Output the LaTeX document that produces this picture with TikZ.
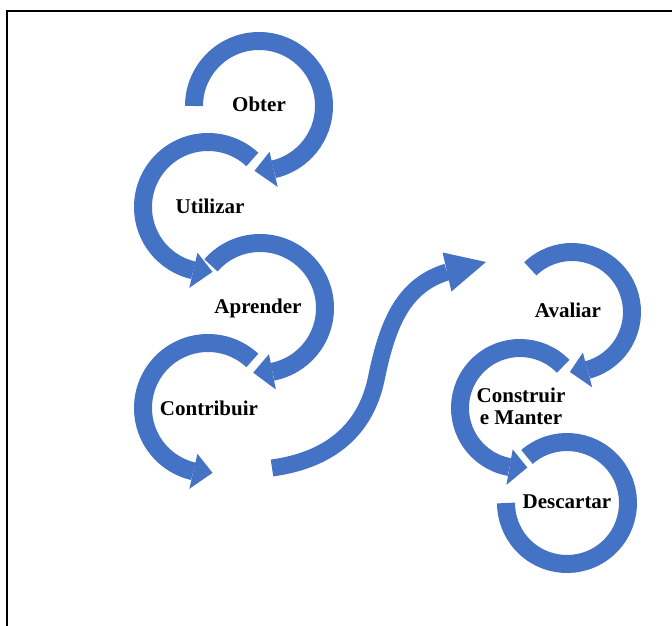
\documentclass[tikz,border=0pt]{standalone}
\usepackage{fontspec}
\setmainfont{Liberation Serif}
\usetikzlibrary{calc}
\definecolor{ringblue}{HTML}{4472C4}
\tikzset{
  band/.style={draw=ringblue, line width=18pt},
  sband/.style={draw=ringblue, line width=17pt},
  headfill/.style={fill=ringblue},
  lbl/.style={font=\fontsize{21}{22}\selectfont\bfseries, text=black, align=center, inner sep=0pt},
  frameline/.style={draw=black, line width=1.2pt}
}
% arc of a ring: center, radius, start angle, end angle
\newcommand{\ringarc}[4]{%
  \draw[band] ($(#1)+(#3:#2pt)$) arc[start angle=#3, end angle=#4, radius=#2pt];}
% arrow head: center, radius, base angle, tip angle
\newcommand{\ringhead}[4]{%
  \pgfmathsetmacro\rout{#2+18}%
  \pgfmathsetmacro\rin{#2-18}%
  \fill[headfill] ($(#1)+(#3:\rout pt)$) -- ($(#1)+(#4:#2pt)$) -- ($(#1)+(#3:\rin pt)$) -- cycle;}
\begin{document}
\begin{tikzpicture}[x=1pt,y=1pt]
\useasboundingbox (0,0) rectangle (672,-626);
% frame
\coordinate (fTL) at (7,-11);
\coordinate (fTR) at (672,-11);
\coordinate (fBL) at (7,-626);
\draw[frameline] (fTR) -- (fTL) -- (fBL);

% centers
\coordinate (cObter) at (259,-106);
\coordinate (cUtil) at (208,-207);
\coordinate (cApr) at (260,-308);
\coordinate (cContr) at (208,-408);
\coordinate (cAval) at (572,-312);
\coordinate (cConst) at (520,-408);
\coordinate (cDesc) at (567,-503);

% left column
\ringarc{cObter}{65}{180}{-77}
\ringhead{cObter}{65}{-77}{-94}
\ringarc{cUtil}{65}{47}{257}
\ringhead{cUtil}{65}{257}{274}
\ringarc{cApr}{65}{139}{-79}
\ringhead{cApr}{65}{-79}{-96}
\ringarc{cContr}{65}{47}{257}
\ringhead{cContr}{65}{257}{274}

% right column
\ringarc{cAval}{60}{134}{-75}
\ringhead{cAval}{60}{-75}{-92}
\ringarc{cConst}{60}{44}{260}
\ringhead{cConst}{60}{260}{277}
\ringarc{cDesc}{61}{131}{-180}

% S connector
\coordinate (sStart) at (272,-468);
\coordinate (sMid) at (376,-380);
\coordinate (sBase) at (447,-272);
\coordinate (sW1) at (442.6,-252.5);
\coordinate (sW2) at (451.4,-291.5);
\coordinate (sTip) at (486,-262);
\draw[sband] (sStart) .. controls (330,-460) and (365,-430) .. (sMid)
  .. controls (388,-320) and (405,-285) .. (sBase);
\fill[headfill] (sW1) -- (sTip) -- (sW2) -- cycle;

% labels
\node[lbl] (tObter) at (259,-104) {Obter};
\node[lbl] (tUtil) at (210,-206) {Utilizar};
\node[lbl] (tApr) at (258,-308) {Aprender};
\node[lbl] (tContr) at (209,-408) {Contribuir};
\node[lbl] (tAval) at (568,-310) {Avaliar};
\node[lbl] (tConst) at (521,-406) {Construir\\e Manter};
\node[lbl] (tDesc) at (567,-502) {Descartar};
\end{tikzpicture}
\end{document}
